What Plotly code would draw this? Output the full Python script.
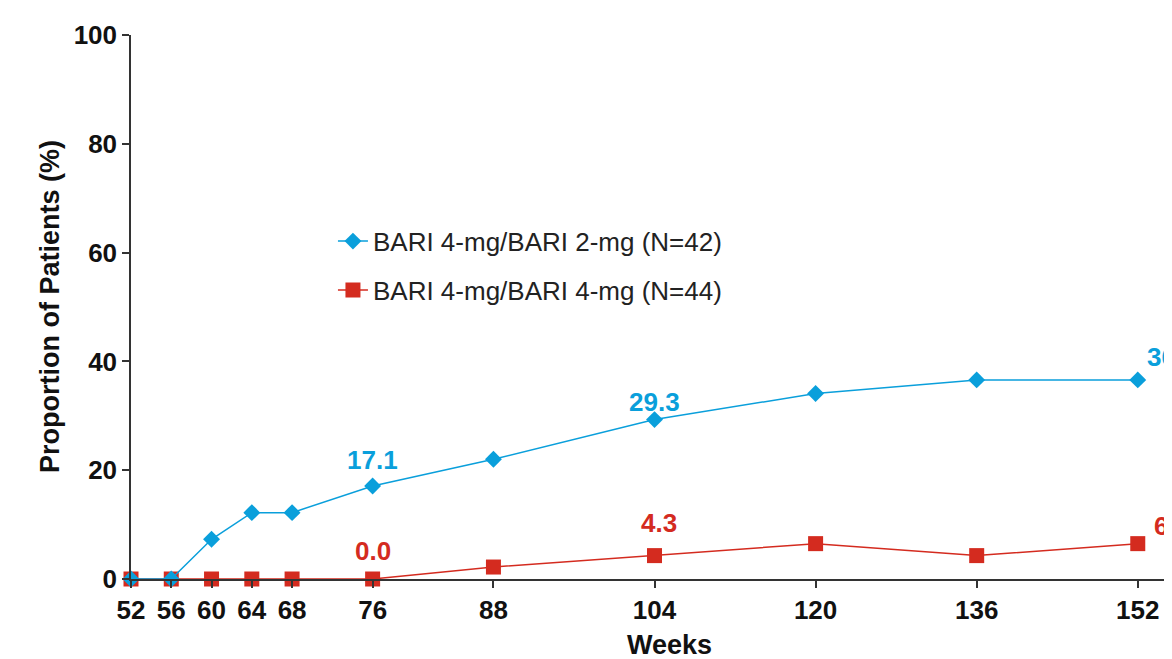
import plotly.graph_objects as go

weeks = [52, 56, 60, 64, 68, 76, 88, 104, 120, 136, 152]
bari_2mg = [0.0, 0.0, 7.3, 12.2, 12.2, 17.1, 22.0, 29.3, 34.1, 36.6, 36.6]
bari_4mg = [0.0, 0.0, 0.0, 0.0, 0.0, 0.0, 2.2, 4.3, 6.5, 4.3, 6.5]
name_2mg = "BARI 4-mg/BARI 2-mg (N=42)"
name_4mg = "BARI 4-mg/BARI 4-mg (N=44)"
label_weeks = [76, 104, 152]
y_ticks = [0, 20, 40, 60, 80, 100]

BLUE = "#0A9FDB"
RED = "#D42B1F"
FONT = "Liberation Sans, Arial, sans-serif"

fig = go.Figure()
fig.add_trace(go.Scatter(
    x=weeks, y=bari_4mg, mode="lines+markers", name=name_4mg,
    line=dict(color=RED, width=1.5),
    marker=dict(symbol="square", size=15, color=RED),
    cliponaxis=False, legend="legend2", showlegend=True))
fig.add_trace(go.Scatter(
    x=weeks, y=bari_2mg, mode="lines+markers", name=name_2mg,
    line=dict(color=BLUE, width=1.5),
    marker=dict(symbol="diamond", size=13, color=BLUE),
    cliponaxis=False, legend="legend", showlegend=True))

# data labels: (shift x, shift y, anchor) per labelled week
blue_style = {76: (0, 26, "center"), 104: (0, 18, "center"), 152: (7, 23, "left")}
red_style = {76: (0, 28, "center"), 104: (4, 33, "center"), 152: (14, 18, "left")}
for series, color, style in [(bari_2mg, BLUE, blue_style), (bari_4mg, RED, red_style)]:
    for w in label_weeks:
        i = weeks.index(w)
        dx, dy, anc = style[w]
        fig.add_annotation(x=w, y=series[i], text=f"{series[i]:.1f}", showarrow=False,
                           xshift=dx, yshift=dy, xanchor=anc, yanchor="middle",
                           font=dict(family=FONT, size=26, color=color, weight="bold"))

fig.add_annotation(x=0.517, y=0, xref="paper", yref="paper", text="Weeks", showarrow=False,
                   yshift=-66, yanchor="middle",
                   font=dict(family=FONT, size=27, color="#111", weight="bold"))
fig.add_annotation(x=0, y=0.5, xref="paper", yref="paper", text="Proportion of Patients (%)",
                   showarrow=False, xshift=-81, textangle=-90, xanchor="center", yanchor="middle",
                   font=dict(family=FONT, size=27, color="#111", weight="bold"))

fig.update_layout(
    width=1164, height=651,
    margin=dict(l=123, r=0, t=27, b=80),
    showlegend=True,
    paper_bgcolor="white", plot_bgcolor="white",
    font=dict(family=FONT),
    legend=dict(x=0.194, y=0.621, xanchor="left", yanchor="middle",
                font=dict(family=FONT, size=26, color="#222"), bgcolor="rgba(0,0,0,0)"),
    legend2=dict(x=0.194, y=0.531, xanchor="left", yanchor="middle",
                 font=dict(family=FONT, size=26, color="#222"), bgcolor="rgba(0,0,0,0)"),
    xaxis=dict(range=[52, 155.4], tickvals=weeks, ticktext=[str(w) for w in weeks],
               showgrid=False, zeroline=False, showline=True, linecolor="#333", linewidth=1.5,
               ticks="outside", ticklen=7, tickcolor="#333", tickwidth=1.5,
               tickfont=dict(family=FONT, size=26, color="#111", weight="bold")),
    yaxis=dict(range=[0, 100], tickvals=y_ticks, showgrid=False, zeroline=False,
               showline=True, linecolor="#333", linewidth=1.5,
               ticks="outside", ticklen=7, tickcolor="#333", tickwidth=1.5,
               tickfont=dict(family=FONT, size=26, color="#111", weight="bold")),
)

fig.write_html("out.html")
